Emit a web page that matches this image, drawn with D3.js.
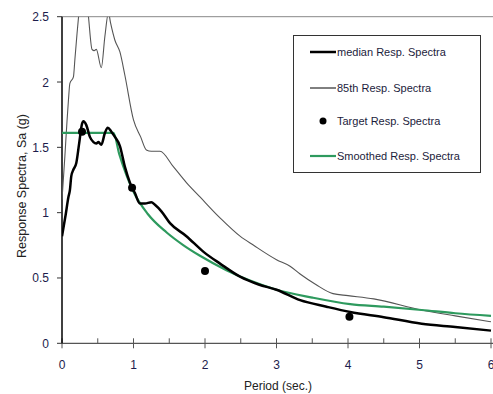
<!DOCTYPE html>
<html>
<head>
<meta charset="utf-8">
<script src="https://cdn.jsdelivr.net/npm/d3@7"></script>
<style>
  body { margin: 0; background: #fff; }
  svg { display: block; font-family: "Liberation Sans", Arial, sans-serif; }
</style>
</head>
<body>
<div id="chart"></div>
<script>
const width = 493;
const height = 394;

// median response spectrum
const median_t = [0, 0.05, 0.09, 0.11, 0.13, 0.16, 0.2, 0.24, 0.28, 0.3, 0.34, 0.39, 0.44, 0.48, 0.51, 0.55, 0.6, 0.64, 0.69, 0.74, 0.81, 0.88, 0.95, 1.02, 1.09, 1.16, 1.25, 1.3, 1.39, 1.51, 1.74, 1.98, 2.21, 2.49, 2.75, 3.0, 3.33, 3.7, 4.03, 4.5, 5.03, 5.5, 6.0];
const median_sa = [0.82, 0.98, 1.12, 1.17, 1.28, 1.33, 1.38, 1.53, 1.68, 1.70, 1.67, 1.58, 1.54, 1.53, 1.54, 1.52, 1.61, 1.65, 1.62, 1.58, 1.51, 1.35, 1.23, 1.15, 1.07, 1.07, 1.08, 1.06, 1.01, 0.92, 0.82, 0.70, 0.61, 0.51, 0.45, 0.41, 0.33, 0.28, 0.24, 0.20, 0.15, 0.125, 0.097];

// 85th percentile response spectrum
const p85_t = [0, 0.04, 0.07, 0.09, 0.11, 0.16, 0.18, 0.21, 0.24, 0.27, 0.33, 0.37, 0.42, 0.45, 0.48, 0.55, 0.6, 0.65, 0.68, 0.74, 0.81, 0.88, 1.0, 1.1, 1.18, 1.25, 1.37, 1.56, 1.74, 1.93, 2.21, 2.49, 2.68, 3.0, 3.19, 3.33, 3.55, 3.79, 4.0, 4.36, 5.03, 5.5, 6.0];
const p85_sa = [1.1, 1.43, 1.7, 1.86, 1.99, 2.04, 2.17, 2.37, 2.55, 2.7, 2.7, 2.5, 2.25, 2.24, 2.25, 2.11, 2.35, 2.53, 2.45, 2.32, 2.23, 2.05, 1.71, 1.58, 1.48, 1.47, 1.47, 1.35, 1.23, 1.12, 0.96, 0.82, 0.75, 0.64, 0.59, 0.53, 0.45, 0.38, 0.365, 0.34, 0.255, 0.21, 0.165];

// target points
const target_t = [0.28, 0.98, 2.0, 4.02];
const target_sa = [1.62, 1.19, 0.553, 0.204];

// smoothed spectrum
const smooth_t = [0, 0.72, 0.8, 0.9, 1.0, 1.2, 1.46, 1.7, 1.93, 2.3, 2.63, 3.0, 3.5, 4.03, 4.5, 5.03, 5.5, 6.0];
const smooth_sa = [1.61, 1.61, 1.45, 1.29, 1.16, 0.99, 0.85, 0.75, 0.67, 0.56, 0.48, 0.41, 0.35, 0.30, 0.28, 0.255, 0.23, 0.21];

const x_ticks = [0, 1, 2, 3, 4, 5, 6];
const x_minor = [0.5, 1.5, 2.5, 3.5, 4.5, 5.5];
const y_ticks = [0, 0.5, 1, 1.5, 2, 2.5];

const legend_labels = ["median Resp. Spectra", "85th Resp.  Spectra", "Target Resp. Spectra", "Smoothed Resp. Spectra"];

const green = "#2e9a5e";
const margin = {left: 62, right: 2, top: 16.7, bottom: 50.7};

const x = d3.scaleLinear().domain([0, 6]).range([margin.left, 491]);
const y = d3.scaleLinear().domain([0, 2.5]).range([height - margin.bottom, margin.top]);

const svg = d3.create("svg")
    .attr("width", width)
    .attr("height", height)
    .attr("viewBox", [0, 0, width, height]);

svg.append("defs").append("clipPath")
    .attr("id", "plot-clip")
    .append("rect")
    .attr("x", x(0))
    .attr("y", y(2.5))
    .attr("width", width - x(0))
    .attr("height", y(0) - y(2.5));

// top border
svg.append("line")
    .attr("x1", x(0)).attr("x2", width)
    .attr("y1", y(2.5)).attr("y2", y(2.5))
    .attr("stroke", "#888")
    .attr("stroke-width", 1);

// x axis
svg.append("line")
    .attr("x1", x(0)).attr("x2", width)
    .attr("y1", y(0)).attr("y2", y(0))
    .attr("stroke", "#555")
    .attr("stroke-width", 1.2);

svg.append("g")
    .selectAll("line")
    .data(x_ticks)
    .join("line")
    .attr("x1", d => x(d)).attr("x2", d => x(d))
    .attr("y1", y(0) - 5).attr("y2", y(0) + 5)
    .attr("stroke", "#555");

svg.append("g")
    .selectAll("line")
    .data(x_minor)
    .join("line")
    .attr("x1", d => x(d)).attr("x2", d => x(d))
    .attr("y1", y(0) - 5).attr("y2", y(0))
    .attr("stroke", "#555");

svg.append("g")
    .attr("font-size", 12)
    .attr("fill", "#1c1c4c")
    .attr("text-anchor", "middle")
    .selectAll("text")
    .data(x_ticks)
    .join("text")
    .attr("x", d => x(d))
    .attr("y", y(0) + 26)
    .text(d => d);

// y axis
svg.append("line")
    .attr("x1", x(0)).attr("x2", x(0))
    .attr("y1", y(0)).attr("y2", y(2.5))
    .attr("stroke", "#000")
    .attr("stroke-width", 1.5);

svg.append("g")
    .selectAll("line")
    .data(y_ticks)
    .join("line")
    .attr("x1", x(0) - 5).attr("x2", x(0))
    .attr("y1", d => y(d)).attr("y2", d => y(d))
    .attr("stroke", "#333");

svg.append("g")
    .attr("font-size", 12)
    .attr("fill", "#1c1c4c")
    .attr("text-anchor", "end")
    .selectAll("text")
    .data(y_ticks)
    .join("text")
    .attr("x", x(0) - 13)
    .attr("y", d => y(d) + 4.5)
    .text(d => d);

// axis titles
svg.append("text")
    .attr("x", 278)
    .attr("y", 390)
    .attr("font-size", 12)
    .attr("fill", "#222")
    .attr("text-anchor", "middle")
    .text("Period (sec.)");

svg.append("text")
    .attr("transform", "translate(26,186) rotate(-90)")
    .attr("font-size", 12.5)
    .attr("fill", "#222")
    .attr("text-anchor", "middle")
    .text("Response Spectra, Sa (g)");

// series
const line = d3.line()
    .x(d => x(d[0]))
    .y(d => y(d[1]))
    .curve(d3.curveMonotoneX);
const plot = svg.append("g").attr("clip-path", "url(#plot-clip)");

plot.append("path")
    .attr("d", line(d3.zip(p85_t, p85_sa)))
    .attr("fill", "none")
    .attr("stroke", "#555")
    .attr("stroke-width", 1.1);

plot.append("path")
    .attr("d", line(d3.zip(smooth_t, smooth_sa)))
    .attr("fill", "none")
    .attr("stroke", green)
    .attr("stroke-width", 2.2);

plot.append("path")
    .attr("d", line(d3.zip(median_t, median_sa)))
    .attr("fill", "none")
    .attr("stroke", "#000")
    .attr("stroke-width", 2.5)
    .attr("stroke-linejoin", "round");

plot.append("g")
    .selectAll("circle")
    .data(d3.zip(target_t, target_sa))
    .join("circle")
    .attr("cx", d => x(d[0]))
    .attr("cy", d => y(d[1]))
    .attr("r", 4)
    .attr("fill", "#000");

// legend
const legend = svg.append("g");
legend.append("rect")
    .attr("x", 293.5).attr("y", 35.5)
    .attr("width", 187).attr("height", 137)
    .attr("fill", "#fff")
    .attr("stroke", "#333");

const rows = [52, 88, 121, 156];
const item = legend.selectAll("g")
    .data(legend_labels)
    .join("g")
    .attr("transform", (d, i) => `translate(0,${rows[i]})`);

item.append("text")
    .attr("x", 337)
    .attr("y", 4)
    .attr("font-size", 11)
    .attr("fill", "#1c1c3c")
    .text(d => d);

item.filter((d, i) => i !== 2).append("line")
    .attr("x1", 310).attr("x2", 336)
    .attr("y1", 0).attr("y2", 0)
    .attr("stroke", (d, i) => i === 2 ? green : "#000")
    .attr("stroke-width", (d, i) => [2.5, 1, 2.2][i]);

item.filter((d, i) => i === 2).append("circle")
    .attr("cx", 323).attr("cy", 0).attr("r", 3.5)
    .attr("fill", "#000");

document.getElementById("chart").append(svg.node());
</script>
</body>
</html>
